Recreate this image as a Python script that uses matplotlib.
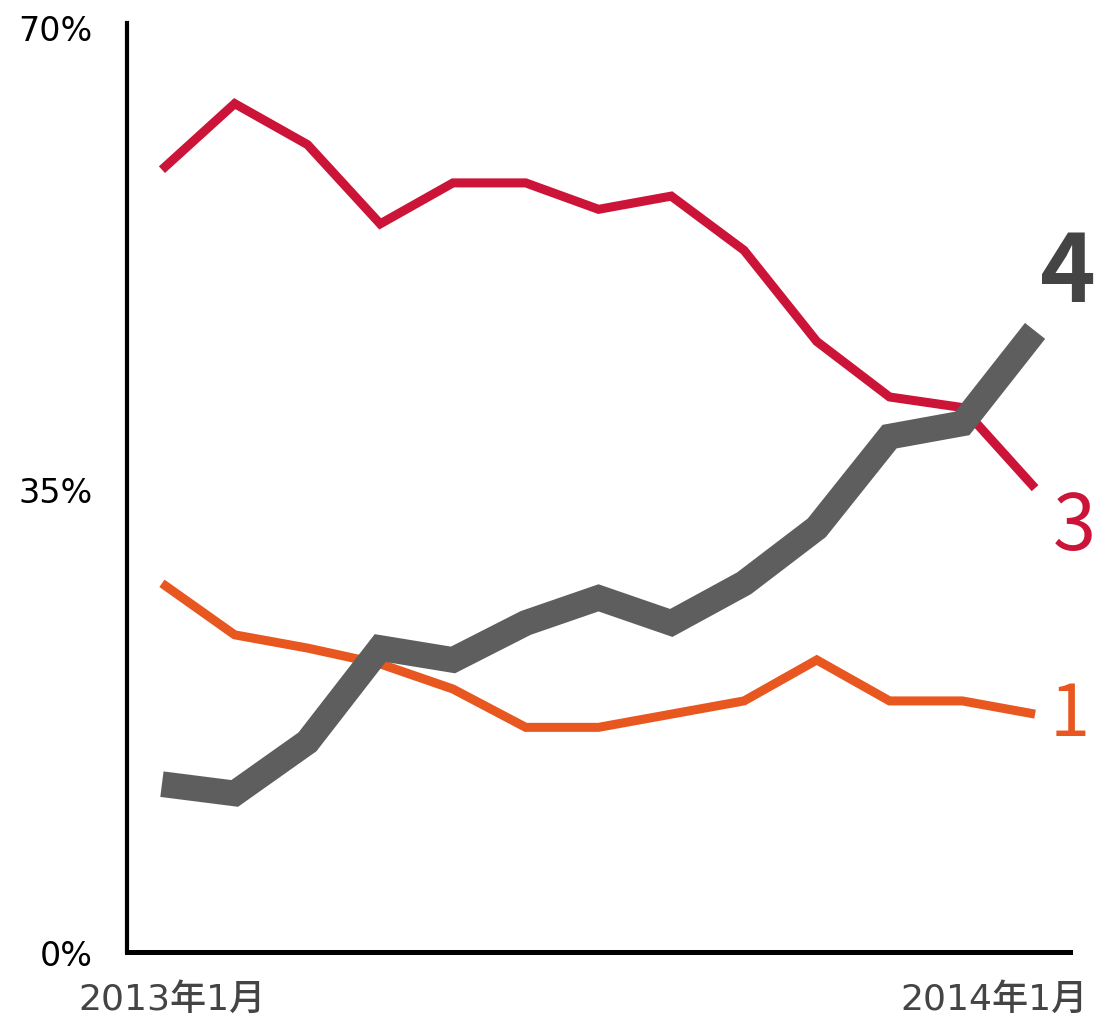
import matplotlib.pyplot as plt
import matplotlib.transforms as mtransforms

# monthly points, 2013-01 .. 2014-01
months = list(range(13))
share_3 = [59.2, 64.2, 61.1, 55.1, 58.2, 58.2, 56.2, 57.2, 53.1, 46.2, 42.0, 41.2, 35.1]
share_1 = [27.9, 24.0, 23.0, 21.8, 19.9, 17.0, 17.0, 18.0, 19.0, 22.1, 19.0, 19.0, 18.0]
share_4 = [12.7, 12.0, 15.9, 23.0, 22.1, 24.9, 26.8, 24.9, 27.9, 32.1, 39.0, 40.0, 47.0]
end_labels = ['4', '3', '1']
y_ticks = [0, 35, 70]
y_ticklabels = ['0%', '35%', '70%']
x_labels = ['2013年1月', '2014年1月']

RED = '#cc1439'
ORANGE = '#e8571f'
GRAY = '#5e5e5e'
LABEL_GRAY = '#444444'

LATIN_CJK = ['DejaVu Sans', 'Noto Sans CJK JP']
plt.rcParams['font.family'] = LATIN_CJK

fig = plt.figure(figsize=(10.97, 10.20), dpi=100)
ax = fig.add_axes([127 / 1097, 67 / 1020, (1070 - 127) / 1097, (953 - 24) / 1020])

line_kw = dict(solid_joinstyle='miter', solid_capstyle='butt')
ax.plot(months, share_3, color=RED, linewidth=6.5, zorder=2, **line_kw)
ax.plot(months, share_1, color=ORANGE, linewidth=6.5, zorder=3, **line_kw)
ax.plot(months, share_4, color=GRAY, linewidth=18.5, zorder=4, **line_kw)

ax.set_xlim(-0.48, 12.48)
ax.set_ylim(0, 70.3)

for side in ['top', 'right']:
    ax.spines[side].set_visible(False)
ax.spines['left'].set_linewidth(3)
ax.spines['bottom'].set_linewidth(3.6)

ax.set_yticks(y_ticks)
ax.set_yticklabels(y_ticklabels, fontsize=24, color='black', fontweight='medium')
ax.tick_params(axis='y', length=0, pad=25)
ax.set_xticks([])

# x labels below the axis
fig.text(78 / 1097, 3 / 1020, x_labels[0], ha='left', va='bottom',
         fontsize=26, color=LABEL_GRAY, fontweight='medium')
fig.text(1088 / 1097, 3 / 1020, x_labels[1], ha='right', va='bottom',
         fontsize=26, color=LABEL_GRAY, fontweight='medium')

# end-of-line labels at the right edge
edge = mtransforms.blended_transform_factory(fig.transFigure, ax.transData)
ax.text(1096 / 1097, 49.3, end_labels[0], transform=edge, ha='right', va='baseline',
        fontsize=68, fontweight='bold', color=LABEL_GRAY, family='Noto Sans CJK JP',
        clip_on=False)
ax.text(1096 / 1097, 30.5, end_labels[1], transform=edge, ha='right', va='baseline',
        fontsize=56, color=RED, family='Noto Sans CJK JP', clip_on=False)
ax.text(1090 / 1097, 16.4, end_labels[2], transform=edge, ha='right', va='baseline',
        fontsize=52, color=ORANGE, family='Noto Sans CJK JP', clip_on=False)

fig.savefig('out.png', dpi=100)
